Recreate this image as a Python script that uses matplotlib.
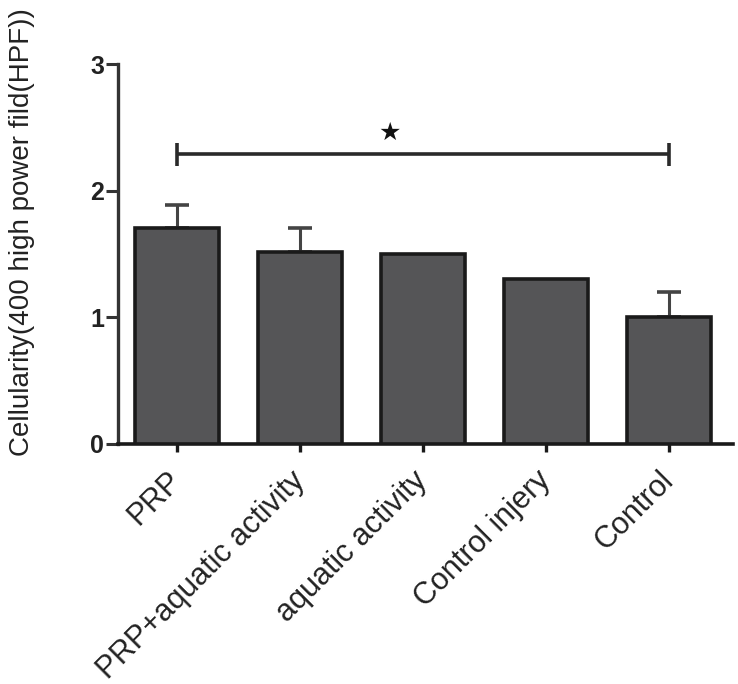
import matplotlib
matplotlib.use("Agg")
import matplotlib.pyplot as plt

categories = ["PRP", "PRP+aquatic activity", "aquatic activity", "Control injery", "Control"]
means = [1.71, 1.52, 1.50, 1.30, 1.00]
errors = [0.18, 0.19, 0.0, 0.0, 0.20]
yticks = [0, 1, 2, 3]
sig_y = 2.29
sig_star_x = 1.73
sig_star_y = 2.46

plt.rcParams['font.family'] = ['Liberation Sans', 'DejaVu Sans']

fig = plt.figure(figsize=(7.38, 6.84), dpi=100)
ax = fig.add_axes([0.160, 0.351, 0.833, 0.555])

x = list(range(len(categories)))
ax.bar(x, means, width=0.68, color='#555557', edgecolor='#1a1a1a', linewidth=2.6, zorder=3)
err_x = [xi for xi, e in zip(x, errors) if e > 0]
err_y = [m for m, e in zip(means, errors) if e > 0]
err_v = [e for e in errors if e > 0]
ax.errorbar(err_x, err_y, yerr=[[0]*len(err_v), err_v], fmt='none', ecolor='#444444',
            elinewidth=2.2, capsize=8.5, capthick=2.6, zorder=2)

# significance bracket
ax.plot([0, 4], [sig_y, sig_y], color='#2a2a2a', lw=2.6, solid_capstyle='butt', zorder=4)
for xe in (0, 4):
    ax.plot([xe, xe], [sig_y - 0.09, sig_y + 0.09], color='#2a2a2a', lw=2.6, solid_capstyle='butt', zorder=4)
ax.text(sig_star_x, sig_star_y, '★', ha='center', va='center', fontsize=18, family=['DejaVu Sans'], color='#111111')

ax.set_xlim(-0.48, 4.52)
ax.set_ylim(0, 3)
ax.set_yticks(yticks)
ax.set_yticklabels([str(t) for t in yticks], fontsize=18, fontweight='bold', color='#222222')
ax.set_xticks(x)
ax.set_xticklabels(categories, rotation=45, ha='right', va='center', rotation_mode='anchor',
                   fontsize=22, color='#222222')

for side in ('top', 'right'):
    ax.spines[side].set_visible(False)
ax.spines['left'].set_linewidth(2.4)
ax.spines['left'].set_color('#333333')
ax.spines['bottom'].set_linewidth(2.6)
ax.spines['bottom'].set_color('#1a1a1a')
ax.tick_params(axis='y', length=9, width=2.2, color='#333333', pad=1)
ax.tick_params(axis='x', length=6, width=2.4, color='#1a1a1a', pad=17)

fig.text(22/738, 1 - 232/684, 'Cellularity(400 high power fild(HPF))', rotation=90,
         ha='center', va='center', fontsize=20, color='#222222')

fig.savefig('out.png', dpi=100)
